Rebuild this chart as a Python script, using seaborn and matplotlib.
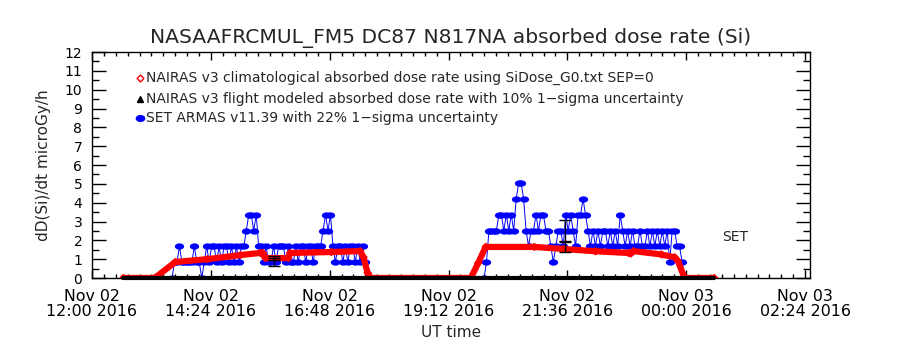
import numpy as np
import pandas as pd
import matplotlib
matplotlib.use("Agg")
import matplotlib.pyplot as plt
import matplotlib.dates as mdates
from matplotlib.ticker import MultipleLocator, FixedLocator
from matplotlib.path import Path
import seaborn as sns

# ---------------- data ----------------
BASE = pd.Timestamp("2016-11-02 12:00")

# NAIRAS v3 climatological absorbed dose rate (minutes after 12:00, microGy/h)
nairas_min = [38, 76, 101, 140, 180, 204, 207, 210, 238, 240, 290, 325, 329, 334, 338,
              459, 468, 477, 536, 572, 610, 650, 653, 656, 690, 706, 710, 718, 754]
nairas_val = [0, 0, 0.85, 1.0, 1.22, 1.33, 1.33, 1.06, 1.06, 1.33, 1.38, 1.43, 1.1, 0.27, 0,
              0, 0.8, 1.65, 1.65, 1.54, 1.42, 1.33, 1.30, 1.43, 1.25, 1.1, 0.9, 0, 0]

# NAIRAS v3 flight modeled absorbed dose rate
flight_min = [38, 754]
flight_val = [0, 0]

# SET ARMAS v11.39, sampled every 3 minutes
armas_step = 3
armas1_start = 97
armas1_val = [0, 0.84, 0.84, 1.68, 0.84, 0.84, 0.84, 0.84, 0.84, 1.68,
              0.84, 0.84, 0, 0.84, 1.68, 0.84, 1.68, 1.68, 0.84, 1.68,
              0.84, 1.68, 1.68, 0.84, 1.68, 0.84, 1.68, 0.84, 1.68, 1.68,
              2.52, 3.36, 3.36, 2.52, 3.36, 1.68, 1.68, 0.84, 1.68, 0.84,
              0.84, 1.68, 0.84, 1.68, 1.68, 1.68, 0.84, 1.68, 0.84, 0.84,
              1.68, 0.84, 1.68, 1.68, 0.84, 1.68, 1.68, 0.84, 1.68, 1.68,
              1.68, 2.52, 3.36, 2.52, 3.36, 1.68, 0.84, 1.68, 1.68, 0.84,
              1.68, 0.84, 1.68, 1.68, 0.84, 1.68, 0.84, 1.68, 0.84, 0]
armas2_start = 475
armas2_val = [0, 0.84, 2.52, 2.52, 2.52, 2.52, 3.36, 3.36, 2.52, 3.36,
              2.52, 3.36, 2.52, 4.2, 5.04, 5.04, 4.2, 2.52, 1.68, 2.52,
              2.52, 3.36, 2.52, 3.36, 3.36, 2.52, 2.52, 1.68, 0.84, 1.68,
              2.52, 2.52, 1.68, 3.36, 2.52, 3.36, 2.52, 1.68, 3.36, 3.36,
              4.2, 3.36, 2.52, 1.68, 2.52, 1.68, 2.52, 1.68, 2.52, 2.52,
              1.68, 2.52, 1.68, 2.52, 1.68, 3.36, 2.52, 1.68, 2.52, 1.68,
              2.52, 1.68, 1.68, 2.52, 1.68, 1.68, 2.52, 1.68, 2.52, 1.68,
              2.52, 1.68, 2.52, 1.68, 2.52, 0.84, 2.52, 2.52, 1.68, 1.68,
              0.84, 0]

# representative uncertainty bars: (minutes, value, error)
armas_err = [(220, 0.84, 0.2), (573, 2.52, 0.55)]
nairas_err = [(220, 1.05, 0.12), (573, 1.65, 0.27)]

title = "NASAAFRCMUL_FM5 DC87 N817NA absorbed dose rate (Si)"
legend_labels = ["NAIRAS v3 climatological absorbed dose rate using SiDose_G0.txt SEP=0",
                 "NAIRAS v3 flight modeled absorbed dose rate with 10% 1\u2212sigma uncertainty",
                 "SET ARMAS v11.39 with 22% 1\u2212sigma uncertainty"]
y_ticks = list(range(0, 13))
x_tick_minutes = [0, 144, 288, 432, 576, 720, 864]


def to_time(mins):
    return BASE + pd.to_timedelta(np.asarray(mins, dtype=float), unit="min")


nairas = pd.DataFrame({"t": to_time(nairas_min), "v": nairas_val})
flight = pd.DataFrame({"t": to_time(flight_min), "v": flight_val})
a1_min = armas1_start + armas_step * np.arange(len(armas1_val))
a2_min = armas2_start + armas_step * np.arange(len(armas2_val))
armas1 = pd.DataFrame({"t": to_time(a1_min), "v": armas1_val})
armas2 = pd.DataFrame({"t": to_time(a2_min), "v": armas2_val})

# ellipse marker (IDL-like user symbol)
_th = np.linspace(0, 2 * np.pi, 25)
ELLIPSE = Path(np.column_stack([np.cos(_th), 0.68 * np.sin(_th)]), closed=True)

# ---------------- figure ----------------
sns.set_style("white")
plt.rcParams["font.family"] = ["DejaVu Sans"]
plt.rcParams.update({
    "xtick.bottom": True, "xtick.top": True, "ytick.left": True, "ytick.right": True,
    "xtick.direction": "in", "ytick.direction": "in",
    "xtick.major.size": 6, "xtick.minor.size": 3,
    "ytick.major.size": 10, "ytick.minor.size": 5,
    "xtick.major.width": 1, "xtick.minor.width": 1,
    "ytick.major.width": 1, "ytick.minor.width": 1,
    "xtick.color": "black", "ytick.color": "black",
})

fig = plt.figure(figsize=(9, 3.5), dpi=100)
ax = fig.add_axes([0.1022, 0.2057, 0.7978, 0.6457])

RED = "#ff0000"
BLUE = "#0000ff"

# ARMAS
for df in (armas1, armas2):
    sns.lineplot(data=df, x="t", y="v", ax=ax, color=BLUE, lw=0.7, zorder=3,
                 estimator=None, sort=False)
    sns.scatterplot(data=df, x="t", y="v", ax=ax, color=BLUE, marker=ELLIPSE, s=45,
                    edgecolor=BLUE, linewidth=0, zorder=4)

# NAIRAS climatological
sns.lineplot(data=nairas, x="t", y="v", ax=ax, color=RED, lw=4.5, zorder=5,
             estimator=None, sort=False)
sns.scatterplot(data=nairas, x="t", y="v", ax=ax, color="none", marker="D", s=12,
                edgecolor=RED, linewidth=1, zorder=5)

# NAIRAS flight modeled (black, at zero)
sns.lineplot(data=flight, x="t", y="v", ax=ax, color="black", lw=3, zorder=6,
             estimator=None, sort=False)
ax.lines[-1].set_clip_on(False)

# error bars
for (m, v, e) in armas_err + nairas_err:
    ax.errorbar(to_time([m]), [v], yerr=[e], color="black", lw=1, capsize=4,
                capthick=1, zorder=7, fmt="none")

ax.text(to_time([763])[0], 2.18, "SET", fontsize=10, va="center", ha="left")

# axes
ax.set_xlim(to_time([0])[0], to_time([870])[0])
ax.set_ylim(0, 12)
ax.yaxis.set_major_locator(FixedLocator(y_ticks))
ax.yaxis.set_minor_locator(MultipleLocator(0.5))
ax.set_yticklabels([str(v) for v in y_ticks])
ax.xaxis.set_major_locator(FixedLocator(mdates.date2num(to_time(x_tick_minutes))))
ax.xaxis.set_minor_locator(FixedLocator(mdates.date2num(to_time(np.arange(0, 871, 14.4)))))
ax.xaxis.set_major_formatter(mdates.DateFormatter("%b %d\n%H:%M %Y"))
ax.minorticks_on()
ax.xaxis.set_minor_locator(FixedLocator(mdates.date2num(to_time(np.arange(0, 871, 14.4)))))
ax.yaxis.set_minor_locator(MultipleLocator(0.5))

for s in ax.spines.values():
    s.set_color("black")
    s.set_linewidth(1)
ax.tick_params(axis="both", which="both", direction="in", top=True, right=True,
               bottom=True, left=True, colors="black", width=1)
ax.tick_params(axis="y", which="major", length=10, labelsize=10, pad=7)
ax.tick_params(axis="y", which="minor", length=5)
ax.tick_params(axis="x", which="major", length=6, labelsize=11.4, pad=8)
ax.tick_params(axis="x", which="minor", length=3)
for lab in ax.get_xticklabels():
    lab.set_linespacing(1.0)

ax.set_xlabel("UT time", fontsize=11, labelpad=4)
ax.set_ylabel("dD(Si)/dt microGy/h", fontsize=11, labelpad=10)

fig.text(0.501, 0.891, title, fontsize=14.6, ha="center", va="center")

# legend-like annotations
leg_y = [0.885, 0.792, 0.708]
leg_mk = [dict(marker="D", mfc="none", mec=RED, ms=3.5, mew=1),
          dict(marker="^", mfc="black", mec="black", ms=4),
          dict(marker=ELLIPSE, mfc=BLUE, mec=BLUE, ms=6)]
for yy, lab, mk in zip(leg_y, legend_labels, leg_mk):
    ax.plot([0.067], [yy], transform=ax.transAxes, ls="none", **mk)
    ax.text(0.075, yy, lab, transform=ax.transAxes, fontsize=10, va="center", ha="left")

ax.set_facecolor("white")
fig.patch.set_facecolor("white")
fig.savefig("out.png", dpi=100)
